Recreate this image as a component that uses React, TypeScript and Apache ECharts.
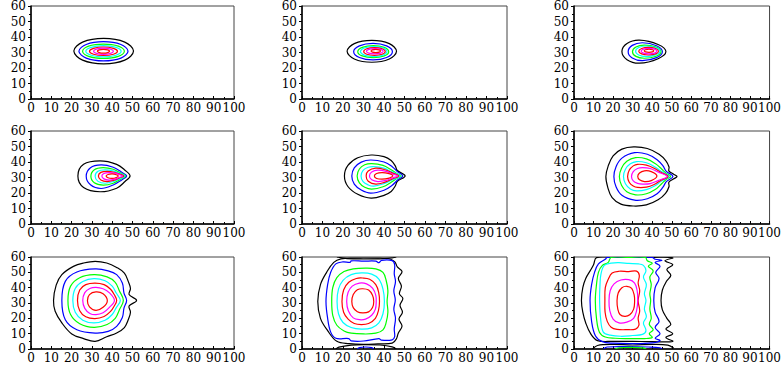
import React, { useEffect, useRef } from "react";
import * as echarts from "echarts";

type Pt = [number, number];
interface Contour {
  level: number;
  closed: boolean;
  pts: Pt[];
}

// contour level colours (outermost -> innermost)
const levelColors = ["#000000", "#0000ff", "#00ff00", "#00ffff", "#ff0000", "#ff00ff", "#ff0000"];

const xTickValues = [0, 10, 20, 30, 40, 50, 60, 70, 80, 90, 100];
const yTickValues = [0, 10, 20, 30, 40, 50, 60];

const panel1: Contour[] = [
  { level: 0, closed: true, pts: [[50.5, 30.9], [46.2, 36.7], [35.8, 39.1], [25.4, 36.7], [21.1, 30.9], [25.4, 25.1], [35.8, 22.7], [46.2, 25.1]] },
  { level: 1, closed: true, pts: [[47.8, 30.8], [44.3, 35.2], [35.7, 37.0], [27.2, 35.2], [23.6, 30.8], [27.2, 26.4], [35.7, 24.6], [44.3, 26.4]] },
  { level: 2, closed: true, pts: [[46.0, 30.8], [43.0, 34.1], [35.7, 35.4], [28.4, 34.1], [25.4, 30.8], [28.4, 27.5], [35.7, 26.2], [43.0, 27.5]] },
  { level: 3, closed: true, pts: [[44.4, 30.8], [41.9, 33.35], [35.7, 34.4], [29.6, 33.35], [27.0, 30.8], [29.6, 28.25], [35.7, 27.2], [41.9, 28.25]] },
  { level: 4, closed: true, pts: [[42.6, 30.8], [40.6, 32.7], [35.7, 33.55], [30.8, 32.7], [28.8, 30.8], [30.8, 28.9], [35.7, 28.05], [40.6, 28.9]] },
  { level: 5, closed: true, pts: [[40.6, 30.8], [39.2, 32.2], [35.7, 32.8], [32.2, 32.2], [30.8, 30.8], [32.2, 29.4], [35.7, 28.8], [39.2, 29.4]] },
  { level: 6, closed: true, pts: [[38.7, 30.8], [37.8, 31.65], [35.7, 32.0], [33.6, 31.65], [32.7, 30.8], [33.6, 29.95], [35.7, 29.6], [37.8, 29.95]] },
];

const panel2: Contour[] = [
  { level: 0, closed: true, pts: [[46.1, 30.75], [42.6, 35.7], [34.05, 37.8], [25.5, 35.7], [22.0, 30.75], [25.5, 25.8], [34.05, 23.7], [42.6, 25.8]] },
  { level: 1, closed: true, pts: [[44.1, 30.55], [41.3, 34.3], [34.65, 35.9], [28.0, 34.3], [25.2, 30.55], [28.0, 26.8], [34.65, 25.2], [41.3, 26.8]] },
  { level: 2, closed: true, pts: [[42.3, 30.55], [40.1, 33.3], [34.75, 34.4], [29.4, 33.3], [27.2, 30.55], [29.4, 27.8], [34.75, 26.7], [40.1, 27.8]] },
  { level: 3, closed: true, pts: [[41.5, 30.6], [39.6, 32.9], [35.0, 33.8], [30.4, 32.9], [28.5, 30.6], [30.4, 28.3], [35.0, 27.4], [39.6, 28.3]] },
  { level: 4, closed: true, pts: [[40.6, 30.65], [39.1, 32.4], [35.35, 33.1], [31.6, 32.4], [30.1, 30.65], [31.6, 28.9], [35.35, 28.2], [39.1, 28.9]] },
  { level: 5, closed: true, pts: [[39.6, 30.8], [38.4, 32.0], [35.5, 32.5], [32.6, 32.0], [31.4, 30.8], [32.6, 29.6], [35.5, 29.1], [38.4, 29.6]] },
  { level: 6, closed: true, pts: [[38.3, 30.95], [37.6, 31.7], [36.0, 32.0], [34.4, 31.7], [33.7, 30.95], [34.4, 30.2], [36.0, 29.9], [37.6, 30.2]] },
];

const panel3: Contour[] = [
  { level: 0, closed: true, pts: [[47.0, 30.6], [43.0, 35.2], [33.4, 38.0], [27.1, 35.8], [24.5, 30.6], [27.1, 25.4], [33.4, 23.1], [43.0, 26.0]] },
  { level: 1, closed: true, pts: [[45.2, 30.55], [42.2, 34.4], [35.0, 36.3], [29.8, 34.6], [27.7, 30.55], [29.8, 26.5], [35.0, 24.8], [42.2, 26.7]] },
  { level: 2, closed: true, pts: [[44.5, 30.55], [42.0, 33.5], [36.0, 34.8], [31.7, 33.6], [29.9, 30.55], [31.7, 27.5], [36.0, 26.3], [42.0, 27.6]] },
  { level: 3, closed: true, pts: [[44.0, 30.8], [42.0, 33.0], [37.0, 34.2], [33.1, 33.2], [31.5, 30.8], [33.1, 28.4], [37.0, 27.4], [42.0, 28.6]] },
  { level: 4, closed: true, pts: [[43.2, 30.85], [41.7, 32.6], [38.0, 33.3], [34.6, 32.6], [33.1, 30.85], [34.6, 29.1], [38.0, 28.4], [41.7, 29.1]] },
  { level: 5, closed: true, pts: [[42.4, 30.9], [41.2, 32.2], [38.35, 32.7], [35.5, 32.2], [34.3, 30.9], [35.5, 29.6], [38.35, 29.1], [41.2, 29.6]] },
  { level: 6, closed: true, pts: [[40.8, 31.1], [40.1, 31.8], [38.35, 32.1], [36.6, 31.8], [35.9, 31.1], [36.6, 30.4], [38.35, 30.1], [40.1, 30.4]] },
];

const panel4: Contour[] = [
  { level: 0, closed: true, pts: [[23.1, 31], [25.9, 38.5], [34, 40.7], [42.2, 38.5], [46.3, 34.7], [48.8, 31], [46.3, 27.4], [42.2, 23.1], [34, 20.8], [25.9, 23.6]] },
  { level: 1, closed: true, pts: [[27.2, 30.8], [29.3, 36.3], [34.5, 38.1], [40.5, 36.6], [44.5, 33.5], [47.1, 31], [44.5, 28.3], [40.5, 25.2], [34.5, 22.9], [29.3, 25.3]] },
  { level: 2, closed: true, pts: [[29.5, 30.8], [31.2, 35.0], [35.5, 36.4], [40.5, 35.3], [44.0, 33.0], [46.6, 31], [44.0, 28.8], [40.5, 26.3], [35.5, 25.1], [31.2, 26.6]] },
  { level: 3, closed: true, pts: [[31.6, 30.8], [33.0, 34.0], [36.5, 34.9], [40.8, 34.1], [43.8, 32.6], [46.3, 31], [43.8, 29.2], [40.8, 27.5], [36.5, 26.3], [33.0, 27.5]] },
  { level: 4, closed: true, pts: [[33.2, 30.9], [34.4, 33.3], [37.5, 34.0], [41.0, 33.4], [43.6, 32.2], [45.8, 31], [43.6, 29.7], [41.0, 28.3], [37.5, 27.4], [34.4, 28.4]] },
  { level: 5, closed: true, pts: [[34.9, 30.9], [35.9, 32.6], [38.5, 33.2], [41.3, 32.8], [43.4, 31.9], [45.2, 31], [43.4, 30.0], [41.3, 28.9], [38.5, 28.3], [35.9, 29.1]] },
  { level: 6, closed: true, pts: [[37.0, 30.9], [37.9, 31.9], [40.0, 32.3], [42.0, 31.8], [43.0, 31.0], [42.0, 30.0], [40.0, 29.4], [37.9, 29.8]] },
];

const panel5: Contour[] = [
  { level: 0, closed: true, pts: [[20.7, 31], [22.4, 37.8], [27.2, 42.7], [33.7, 44.5], [40.0, 43.5], [43.5, 41.0], [45.5, 37.5], [46.5, 34.5], [50.3, 31], [46.5, 27.5], [45.5, 24.5], [43.5, 21.0], [40.0, 18.5], [33.7, 16.7], [27.2, 19.2], [22.4, 24.2]] },
  { level: 1, closed: true, pts: [[24.3, 31], [25.5, 36.2], [28.9, 39.9], [33.5, 41.3], [40.0, 40.0], [44.0, 37.0], [46.5, 33.8], [49.2, 31], [46.5, 28.2], [44.0, 25.0], [40.0, 21.8], [33.5, 19.9], [28.9, 21.9], [25.5, 25.7]] },
  { level: 2, closed: true, pts: [[26.9, 31], [28.0, 35.5], [30.6, 38.2], [34.0, 39.0], [39.5, 37.8], [43.5, 35.0], [46.0, 32.8], [48.4, 31], [46.0, 29.2], [43.5, 27.0], [39.5, 24.0], [34.0, 22.5], [30.6, 23.7], [28.0, 26.5]] },
  { level: 3, closed: true, pts: [[28.8, 31], [29.8, 34.6], [32.3, 36.6], [35.0, 37.0], [39.8, 36.0], [43.5, 33.8], [47.9, 31], [43.5, 28.2], [39.8, 26.0], [35.0, 24.4], [32.3, 25.2], [29.8, 27.3]] },
  { level: 4, closed: true, pts: [[31.3, 31], [32.3, 34.2], [36.0, 36.0], [40.5, 35.0], [44.0, 33.0], [47.2, 31], [44.0, 29.0], [40.5, 27.0], [36.0, 25.7], [32.3, 27.6]] },
  { level: 5, closed: true, pts: [[32.9, 31], [34.0, 33.5], [37.0, 34.7], [41.0, 33.9], [44.0, 32.3], [46.7, 31], [44.0, 29.7], [41.0, 28.1], [37.0, 27.4], [34.0, 28.5]] },
  { level: 6, closed: true, pts: [[35.3, 31], [36.4, 32.6], [39.0, 33.2], [42.0, 32.7], [44.3, 31.1], [42.0, 29.4], [39.0, 28.9], [36.4, 29.4]] },
];

const panel6: Contour[] = [
  { level: 0, closed: true, pts: [[16.3, 30.6], [17.5, 37.5], [20.0, 44.0], [24.5, 48.3], [30.5, 49.7], [37.5, 48.7], [43.5, 45.0], [47.0, 40.8], [48.6, 36.8], [48.5, 34.3], [50.8, 32.2], [52.7, 30.6], [50.8, 29.0], [48.5, 26.9], [48.6, 24.2], [46.8, 19.8], [43.0, 15.6], [37.0, 12.3], [30.5, 11.6], [24.0, 12.8], [19.5, 17.0], [17.3, 23.5]] },
  { level: 1, closed: true, pts: [[20.4, 30.6], [21.5, 37.0], [24.5, 42.5], [31.0, 46.0], [37.5, 45.0], [42.5, 41.5], [45.5, 37.5], [47.2, 34.0], [50.6, 30.7], [47.2, 27.3], [45.5, 23.8], [42.5, 19.5], [37.5, 16.3], [31.0, 15.4], [24.5, 18.5], [21.5, 24.0]] },
  { level: 2, closed: true, pts: [[23.2, 30.6], [24.3, 36.0], [27.0, 40.5], [31.5, 42.8], [37.0, 42.0], [41.5, 39.0], [44.8, 35.5], [47.0, 32.8], [49.4, 30.7], [47.0, 28.6], [44.8, 26.0], [41.5, 22.2], [37.0, 19.5], [31.5, 18.8], [27.0, 20.8], [24.3, 25.0]] },
  { level: 3, closed: true, pts: [[25.3, 30.6], [26.3, 35.3], [28.8, 38.8], [32.0, 40.3], [37.0, 39.5], [41.2, 37.0], [44.5, 34.0], [48.6, 30.7], [44.5, 27.5], [41.2, 24.5], [37.0, 22.2], [32.0, 21.4], [28.8, 22.6], [26.3, 26.0]] },
  { level: 4, closed: true, pts: [[27.4, 30.6], [28.3, 34.8], [30.3, 37.5], [32.5, 38.5], [37.0, 38.0], [41.0, 36.0], [44.5, 33.3], [48.1, 30.7], [44.5, 28.2], [41.0, 25.5], [37.0, 23.8], [32.5, 23.6], [30.3, 24.5], [28.3, 26.8]] },
  { level: 5, closed: true, pts: [[29.4, 30.6], [30.3, 33.8], [32.5, 35.8], [35.0, 36.4], [39.0, 35.8], [43.0, 33.5], [47.6, 30.7], [43.0, 28.0], [39.0, 26.0], [35.0, 25.7], [32.5, 26.2], [30.3, 27.8]] },
  { level: 6, closed: true, pts: [[32.6, 30.6], [33.5, 32.9], [36.0, 34.3], [39.5, 33.8], [42.4, 31.0], [39.5, 28.0], [36.0, 27.4], [33.5, 28.5]] },
];

const panel7: Contour[] = [
  { level: 0, closed: true, pts: [[11.1, 31.7], [12.4, 41.7], [15.2, 48.5], [20.9, 53.9], [25.9, 56.1], [31.6, 57.2], [37.3, 56.1], [42.2, 53.2], [46.0, 49.5], [47.9, 44.1], [49.0, 39.5], [48.3, 35.5], [52.0, 31.7], [48.3, 28.0], [49.0, 24.0], [47.9, 19.1], [46.0, 14.0], [42.2, 10.4], [37.3, 8.0], [31.6, 5.0], [25.9, 6.8], [20.1, 9.8], [15.2, 17.0], [11.9, 24.6]] },
  { level: 1, closed: true, pts: [[15.2, 31.7], [16.9, 44.1], [22.6, 50.2], [31.6, 52.2], [38.0, 51.0], [42.2, 48.5], [45.0, 43.0], [45.8, 36.5], [47.1, 31.7], [45.8, 26.7], [45.0, 20.5], [42.2, 14.8], [38.0, 11.5], [31.6, 10.4], [22.6, 12.6], [16.9, 19.1]] },
  { level: 2, closed: true, pts: [[18.2, 31.7], [19.5, 41.0], [24.0, 46.5], [31.0, 48.5], [37.5, 47.0], [41.5, 43.5], [43.5, 38.0], [45.5, 31.7], [43.5, 25.5], [41.5, 20.0], [37.5, 16.0], [31.0, 14.1], [24.0, 16.5], [19.5, 22.5]] },
  { level: 3, closed: true, pts: [[20.6, 31.7], [21.8, 39.5], [25.5, 44.0], [31.0, 45.9], [36.5, 44.5], [40.0, 41.0], [42.0, 36.5], [44.0, 31.7], [42.0, 27.0], [40.0, 22.5], [36.5, 18.8], [31.0, 17.0], [25.5, 18.8], [21.8, 24.0]] },
  { level: 4, closed: true, pts: [[22.9, 31.7], [24.0, 38.5], [27.0, 42.0], [31.5, 43.0], [36.0, 42.0], [39.2, 39.0], [41.0, 35.5], [42.2, 31.7], [41.0, 28.0], [39.2, 24.5], [36.0, 21.2], [31.5, 19.8], [27.0, 21.0], [24.0, 25.0]] },
  { level: 5, closed: true, pts: [[25.5, 31.7], [26.5, 36.8], [29.0, 39.5], [32.0, 40.2], [35.5, 39.3], [38.5, 36.8], [41.1, 31.7], [38.5, 27.0], [35.5, 23.6], [32.0, 22.4], [29.0, 23.2], [26.5, 26.5]] },
  { level: 6, closed: true, pts: [[27.8, 31.5], [28.8, 35.5], [32.0, 37.2], [35.5, 36.0], [37.6, 31.5], [35.5, 27.2], [32.0, 25.2], [28.8, 27.5]] },
];

const panel8: Contour[] = [
  { level: 0, closed: true, pts: [[7.7, 31], [9.0, 42], [12.0, 50], [15.5, 56.5], [19, 58.8], [25, 59.3], [35, 59.3], [42, 59.0], [45.2, 57], [46.5, 53.5], [48.8, 50.5], [47.0, 46], [48.5, 41], [47.5, 36], [49.2, 33], [47.8, 28.5], [49.0, 24], [47.3, 19.5], [48.8, 15], [47.0, 10.5], [46.0, 6.5], [44, 3.8], [37, 3.3], [30, 3.0], [23, 3.5], [17, 5.0], [12.5, 12], [9.0, 20]] },
  { level: 0, closed: false, pts: [[17, 60], [22, 59.0], [30, 58.7], [38, 58.8], [44, 59.4], [46, 60]] },
  { level: 0, closed: false, pts: [[16.5, 0], [18, 1.2], [24, 2.5], [30, 2.9], [38, 2.6], [44, 1.4], [46, 0]] },
  { level: 1, closed: false, pts: [[27, 0], [28, 0.9], [31, 1.3], [34, 0.9], [35, 0]] },
  { level: 1, closed: true, pts: [[11.7, 31], [12.5, 42], [14.0, 50], [16.5, 55.5], [20, 56.8], [23.5, 56.5], [24.0, 57.5], [30, 57.3], [36, 57.3], [37.5, 56.3], [38.8, 57.8], [44.0, 57.6], [45.2, 55], [45.0, 49], [45.6, 44], [44.8, 38], [45.5, 32], [44.8, 26], [45.6, 20], [45.0, 13], [45.2, 8], [44.0, 6.0], [38.8, 5.8], [37.5, 6.8], [30, 5.2], [24, 5.3], [22.8, 6.8], [16.5, 7.0], [14.0, 11], [12.5, 20]] },
  { level: 2, closed: true, pts: [[14.5, 31], [15.0, 40], [17.0, 46.5], [20.5, 50.5], [25, 52.3], [31, 52.8], [36, 52.3], [39.5, 50], [41, 45], [41.9, 38], [41.5, 31], [41.9, 24], [41.0, 17], [39.5, 12.5], [36, 10.3], [30, 9.8], [24, 10.3], [20.5, 11.8], [17.0, 15.5], [15.0, 22]] },
  { level: 3, closed: true, pts: [[17.1, 31], [17.8, 39], [20, 44.8], [24, 48.5], [29, 49.6], [34, 48.8], [37.5, 45.5], [39.5, 39], [40.2, 31], [39.5, 23], [37.5, 17], [34, 13.8], [29, 13.0], [24, 14.0], [20, 17.3], [17.8, 23]] },
  { level: 4, closed: true, pts: [[19.5, 31], [20.3, 38.5], [22.8, 43.5], [26.5, 46.0], [29.5, 46.3], [33, 45.5], [36, 42], [37.4, 37], [37.8, 31], [37.3, 25], [35.8, 20], [32.5, 16.6], [29, 15.9], [25.5, 16.6], [22.5, 19.5], [20.3, 24]] },
  { level: 5, closed: true, pts: [[21.8, 31], [22.5, 37], [24.5, 41], [28, 43], [31.5, 42.5], [34.5, 39.5], [36, 35], [36.2, 31], [35.8, 26], [34, 22], [31, 19.5], [28, 19.1], [25, 20.3], [22.6, 25]] },
  { level: 6, closed: true, pts: [[24.3, 31], [25, 35.5], [27, 38.6], [29.6, 39.3], [32.5, 38.4], [34.4, 35], [35.0, 31], [34.4, 27], [32.5, 24.2], [29.6, 23.5], [27, 24.3], [25, 27]] },
];

const panel9: Contour[] = [
  { level: 0, closed: true, pts: [[3.8, 31.7], [4.5, 40], [6.0, 46], [8.5, 51.5], [10.0, 55], [11.5, 59.6], [20, 59.8], [30, 59.8], [40, 59.8], [50.5, 59.5], [46.5, 57.5], [50.5, 55], [47.5, 52], [49.5, 48], [47.2, 44], [45.2, 38.5], [44.5, 31.7], [45.2, 25.5], [47.5, 20], [49.5, 16], [47, 13], [50.5, 10], [47, 7.5], [50.5, 5], [40, 4.8], [30, 5.0], [20, 5.0], [12, 5.5], [8.5, 10], [6.0, 17], [4.5, 24]] },
  { level: 0, closed: false, pts: [[9.5, 0], [12, 2.3], [20, 3.0], [30, 2.6], [40, 3.0], [48, 2.5], [51, 0.5]] },
  { level: 1, closed: false, pts: [[15, 0], [17, 1.3], [28, 1.5], [38, 1.3], [44, 0.8], [45, 0]] },
  { level: 2, closed: false, pts: [[21, 0], [23, 0.8], [30, 1.0], [35, 0.7], [37, 0]] },
  { level: 1, closed: true, pts: [[8.2, 31.7], [9, 42], [10.5, 50], [12.5, 55.5], [16, 58.5], [17, 59.8], [30, 59.8], [40, 59.8], [41.5, 58.5], [45, 57.8], [41.5, 56.5], [44, 54], [41.8, 50], [43.5, 46], [41.5, 40], [40.8, 31.7], [41.5, 24], [43.5, 18], [41.5, 14], [44, 10], [41.5, 7], [44, 5.5], [40, 4.0], [30, 3.5], [20, 3.8], [14.5, 4.8], [11, 8.5], [9, 18]] },
  { level: 2, closed: true, pts: [[10.9, 31.7], [11.5, 42], [12.5, 50], [14.5, 54.5], [17.5, 56.5], [19, 59.7], [28, 59.8], [36.5, 59.7], [37.5, 57.5], [40, 56], [38, 54], [40.5, 51], [38.8, 47], [39.5, 42], [38.8, 36], [39.2, 31.7], [38.8, 26], [39.5, 20], [38.5, 16], [40.5, 12.5], [38.5, 10], [40, 7.5], [36, 6.8], [28, 6.8], [21, 7.0], [16, 7.8], [13, 11], [11.5, 20]] },
  { level: 3, closed: true, pts: [[13.1, 31.7], [13.3, 42], [13.8, 49], [15.5, 54.5], [19, 56.0], [23, 56.3], [28, 55.8], [33, 55.5], [35.5, 54.5], [36.8, 51], [35.5, 47], [37, 42], [36, 36], [36.8, 31.7], [36, 26], [37, 21], [35.5, 17], [36.8, 12], [35, 9.5], [30, 8.8], [24, 8.3], [18.5, 9.0], [15, 11], [13.6, 20]] },
  { level: 4, closed: true, pts: [[15.8, 31.7], [16.0, 40], [17.5, 45.5], [19.5, 49.5], [23, 50.7], [28, 50.5], [32, 50.8], [33.4, 48], [32.8, 43], [33.6, 38], [32.8, 31.7], [33.6, 25], [32.8, 20], [33.2, 15.5], [31.5, 13.0], [27, 12.6], [22, 12.8], [19, 14.2], [17, 18], [15.9, 24]] },
  { level: 5, closed: true, pts: [[17.9, 31.7], [18.5, 38], [20.5, 42.5], [24, 45], [28, 45.2], [31, 43], [32.3, 38], [32.6, 31.7], [32.0, 25], [30.5, 20], [27, 17.5], [23, 17.0], [20, 19.5], [18.3, 25]] },
  { level: 6, closed: true, pts: [[22.0, 31.5], [22.6, 36.5], [24.5, 40], [27, 40.9], [29.5, 39.5], [30.8, 35], [31.0, 31], [30.5, 26], [28.5, 22.3], [26, 21.3], [23.5, 22.5], [22.4, 26]] },
];

const panels: Contour[][] = [panel1, panel2, panel3, panel4, panel5, panel6, panel7, panel8, panel9];

// layout (pixels)
const colLeft = [31, 302, 574];
const colWidth = [203, 205, 204];
const rowTop = [6, 131, 257];
const rowHeight = [93, 93, 92];

const FONT = "DejaVu Serif";
const FONT_SIZE = 12;

export default function App() {
  const ref = useRef<HTMLDivElement>(null);
  useEffect(() => {
    if (!ref.current) return;
    const chart = echarts.init(ref.current, null, { renderer: "svg" });
    const grids: any[] = [];
    const xAxes: any[] = [];
    const yAxes: any[] = [];
    const series: any[] = [];
    panels.forEach((contours, i) => {
      const r = Math.floor(i / 3);
      const c = i % 3;
      grids.push({
        left: colLeft[c],
        top: rowTop[r],
        width: colWidth[c],
        height: rowHeight[r],
        show: true,
        borderColor: "#444",
        borderWidth: 1,
        backgroundColor: "transparent",
      });
      xAxes.push({
        type: "value",
        gridIndex: i,
        min: xTickValues[0],
        max: xTickValues[xTickValues.length - 1],
        interval: 10,
        axisLine: { show: true, onZero: false, lineStyle: { color: "#000", width: 1.5 } },
        axisTick: { show: true, inside: true, length: 3, lineStyle: { color: "#000", width: 1 } },
        minorTick: { show: true, splitNumber: 2, length: 2, lineStyle: { color: "#000", width: 1 } },
        splitLine: { show: false },
        axisLabel: { color: "#000", fontFamily: FONT, fontSize: FONT_SIZE, margin: 3, hideOverlap: false },
      });
      yAxes.push({
        type: "value",
        gridIndex: i,
        min: yTickValues[0],
        max: yTickValues[yTickValues.length - 1],
        interval: 10,
        axisLine: { show: true, onZero: false, lineStyle: { color: "#000", width: 1.5 } },
        axisTick: { show: true, inside: false, length: 3, lineStyle: { color: "#000", width: 1 } },
        minorTick: { show: true, splitNumber: 2, length: 2, lineStyle: { color: "#000", width: 1 } },
        splitLine: { show: false },
        axisLabel: { color: "#000", fontFamily: FONT, fontSize: FONT_SIZE, margin: 5, hideOverlap: false },
      });
      series.push({
        type: "custom",
        coordinateSystem: "cartesian2d",
        xAxisIndex: i,
        yAxisIndex: i,
        silent: true,
        clip: true,
        data: contours.map((ct) => ct.pts[0]),
        renderItem: (params: any, api: any) => {
          const ct = contours[params.dataIndex];
          const points = ct.pts.map((p) => api.coord(p));
          return {
            type: ct.closed ? "polygon" : "polyline",
            shape: { points, smooth: 0.37 },
            style: { fill: "none", stroke: levelColors[ct.level], lineWidth: 1.2 },
          };
        },
      });
    });
    chart.setOption({
      animation: false,
      backgroundColor: "#fff",
      textStyle: { fontFamily: FONT },
      grid: grids,
      xAxis: xAxes,
      yAxis: yAxes,
      series,
    });
    return () => chart.dispose();
  }, []);
  return (
    <div
      ref={ref}
      style={{ position: "absolute", left: 0, top: 0, width: 784, height: 372 }}
    />
  );
}
